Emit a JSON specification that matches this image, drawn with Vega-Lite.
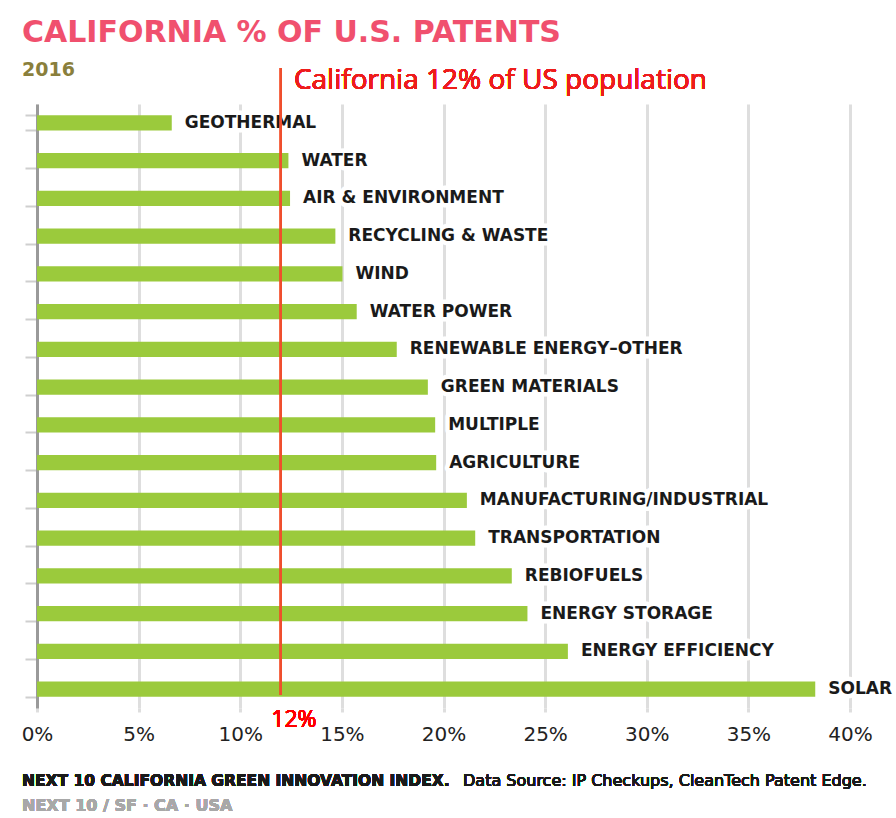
{
  "$schema": "https://vega.github.io/schema/vega-lite/v6.json",
  "width": 813,
  "height": 604,
  "autosize": {"type": "none"},
  "padding": {"left": 37, "top": 104, "right": 46, "bottom": 110},
  "background": "white",
  "title": {
    "text": "CALIFORNIA % OF U.S. PATENTS",
    "subtitle": "2016",
    "anchor": "start",
    "frame": "group",
    "dx": -15,
    "offset": -13,
    "font": "DejaVu Sans",
    "fontSize": 30,
    "fontWeight": "bold",
    "color": "#f0506e",
    "subtitleFont": "DejaVu Sans",
    "subtitleFontSize": 19,
    "subtitleFontWeight": "bold",
    "subtitleColor": "#8a7f3c",
    "subtitlePadding": 13
  },
  "config": {"view": {"stroke": null}},
  "data": {
    "values": [
      {"category": "GEOTHERMAL", "value": 6.63},
      {"category": "WATER", "value": 12.37},
      {"category": "AIR & ENVIRONMENT", "value": 12.45},
      {"category": "RECYCLING & WASTE", "value": 14.68},
      {"category": "WIND", "value": 15.03},
      {"category": "WATER POWER", "value": 15.73},
      {"category": "RENEWABLE ENERGY–OTHER", "value": 17.7},
      {"category": "GREEN MATERIALS", "value": 19.23},
      {"category": "MULTIPLE", "value": 19.59},
      {"category": "AGRICULTURE", "value": 19.64},
      {"category": "MANUFACTURING/INDUSTRIAL", "value": 21.15},
      {"category": "TRANSPORTATION", "value": 21.56},
      {"category": "REBIOFUELS", "value": 23.36},
      {"category": "ENERGY STORAGE", "value": 24.13},
      {"category": "ENERGY EFFICIENCY", "value": 26.12},
      {"category": "SOLAR", "value": 38.29}
    ]
  },
  "encoding": {
    "y": {
      "field": "category",
      "type": "nominal",
      "sort": {"field": "value", "order": "ascending"},
      "scale": {"paddingInner": 0.6, "paddingOuter": 0.3},
      "axis": {
        "title": null,
        "labels": false,
        "grid": false,
        "domain": true,
        "domainColor": "#9a9a9a",
        "domainWidth": 3,
        "ticks": true,
        "tickBand": "extent",
        "tickColor": "#cfcfcf",
        "tickWidth": 2,
        "tickSize": 12
      }
    }
  },
  "layer": [
    {
      "mark": {"type": "bar", "color": "#9bca3c"},
      "encoding": {
        "x": {
          "field": "value",
          "type": "quantitative",
          "scale": {"domain": [0, 40], "nice": false},
          "axis": {
            "title": null,
            "values": [0, 5, 10, 15, 20, 25, 30, 35, 40],
            "labelExpr": "datum.value + '%'",
            "labelFlush": false,
            "grid": true,
            "gridColor": "#dedede",
            "gridWidth": 3,
            "domain": false,
            "ticks": true,
            "tickColor": "#dedede",
            "tickWidth": 3,
            "tickSize": 4,
            "labelFont": "DejaVu Sans",
            "labelFontSize": 20,
            "labelColor": "#222222",
            "labelPadding": 12
          }
        }
      }
    },
    {
      "mark": {"type": "text", "align": "left", "baseline": "middle", "dx": 13, "font": "DejaVu Sans", "fontSize": 17, "fontWeight": "bold", "fill": "white", "stroke": "white", "strokeWidth": 9, "strokeJoin": "round"},
      "encoding": {
        "x": {"field": "value", "type": "quantitative"},
        "text": {"field": "category"}
      }
    },
    {
      "mark": {"type": "text", "align": "left", "baseline": "middle", "dx": 13, "font": "DejaVu Sans", "fontSize": 17, "fontWeight": "bold", "color": "#1a1a1a"},
      "encoding": {
        "x": {"field": "value", "type": "quantitative"},
        "text": {"field": "category"}
      }
    },
    {
      "mark": {"type": "rule", "color": "#ef4f2e", "strokeWidth": 2},
      "encoding": {
        "x": {"datum": 12},
        "y": {"value": -36},
        "y2": {"value": 591}
      }
    },
    {
      "mark": {"type": "text", "align": "left", "baseline": "middle", "dx": 13, "font": "Open Sans", "fontSize": 28, "color": "#ee1c1c", "text": "California 12% of US population"},
      "encoding": {
        "x": {"datum": 12},
        "y": {"value": -23}
      }
    },
    {
      "mark": {"type": "text", "align": "center", "baseline": "middle", "dx": 13, "font": "Open Sans", "fontSize": 23, "color": "#ff0000", "text": "12%"},
      "encoding": {
        "x": {"datum": 12},
        "y": {"value": 616}
      }
    },
    {
      "mark": {"type": "text", "align": "left", "baseline": "alphabetic", "font": "DejaVu Sans", "fontSize": 15.5, "fontWeight": "bold", "color": "#1a1a1a", "text": "NEXT 10 CALIFORNIA GREEN INNOVATION INDEX."},
      "encoding": {
        "x": {"value": -15},
        "y": {"value": 682}
      }
    },
    {
      "mark": {"type": "text", "align": "left", "baseline": "alphabetic", "font": "DejaVu Sans", "fontSize": 16, "color": "#1a1a1a", "text": "Data Source: IP Checkups, CleanTech Patent Edge."},
      "encoding": {
        "x": {"value": 426},
        "y": {"value": 682}
      }
    },
    {
      "mark": {"type": "text", "align": "left", "baseline": "alphabetic", "font": "DejaVu Sans", "fontSize": 16, "fontWeight": "bold", "color": "#a8a8a8", "text": "NEXT 10  /  SF · CA · USA"},
      "encoding": {
        "x": {"value": -15},
        "y": {"value": 707}
      }
    }
  ]
}
